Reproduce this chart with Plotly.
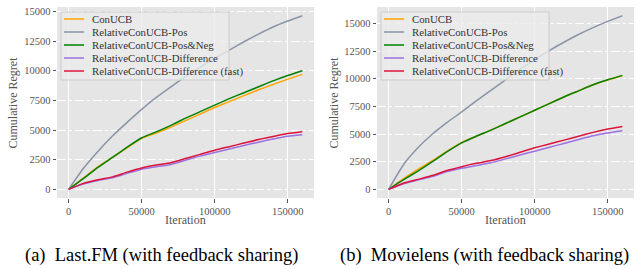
import plotly.graph_objects as go

W, H = 644, 269

iterations = [0, 10000, 20000, 30000, 40000, 50000, 60000, 70000, 80000,
              90000, 100000, 110000, 120000, 130000, 140000, 150000, 160000]

series_names = ["ConUCB", "RelativeConUCB-Pos", "RelativeConUCB-Pos&Neg",
                "RelativeConUCB-Difference", "RelativeConUCB-Difference (fast)"]
series_colors = ["#FFA500", "#8a94a6", "#008000", "#9b72e0", "#DC143C"]

# Last.FM
lastfm_conucb = [0, 950, 1900, 2700, 3500, 4300, 4750, 5250, 5800, 6350, 6900, 7400, 7900, 8400, 8850, 9300, 9700]
lastfm_pos = [0, 1750, 3200, 4500, 5650, 6750, 7750, 8650, 9500, 10300, 11050, 11750, 12450, 13100, 13700, 14200, 14650]
lastfm_posneg = [0, 900, 1850, 2700, 3550, 4350, 4850, 5400, 6000, 6550, 7100, 7650, 8150, 8650, 9150, 9600, 10000]
lastfm_diff = [0, 450, 750, 980, 1350, 1700, 1900, 2100, 2450, 2800, 3100, 3400, 3700, 3980, 4250, 4480, 4600]
lastfm_fast = [0, 500, 800, 1050, 1450, 1800, 2050, 2250, 2600, 2950, 3300, 3600, 3900, 4200, 4450, 4700, 4850]

# Movielens
movie_conucb = [0, 950, 1800, 2600, 3450, 4250, 4800, 5350, 5950, 6550, 7150, 7750, 8350, 8900, 9450, 9880, 10270]
movie_pos = [0, 2200, 3750, 5000, 6050, 7000, 8000, 8950, 9900, 10850, 11730, 12550, 13300, 14000, 14620, 15180, 15700]
movie_posneg = [0, 850, 1650, 2500, 3400, 4200, 4800, 5350, 5950, 6550, 7150, 7750, 8350, 8900, 9450, 9900, 10300]
movie_diff = [0, 500, 850, 1150, 1600, 1900, 2150, 2400, 2750, 3100, 3450, 3800, 4150, 4500, 4850, 5100, 5300]
movie_fast = [0, 550, 900, 1250, 1700, 2050, 2350, 2600, 2950, 3350, 3750, 4100, 4450, 4800, 5150, 5450, 5680]

x_ticks = [0, 50000, 100000, 150000]
y_ticks = [0, 2500, 5000, 7500, 10000, 12500, 15000]
captions = ["(a)  Last.FM (with feedback sharing)", "(b)  Movielens (with feedback sharing)"]

panels = [
    [lastfm_conucb, lastfm_pos, lastfm_posneg, lastfm_diff, lastfm_fast],
    [movie_conucb, movie_pos, movie_posneg, movie_diff, movie_fast],
]

TICKFONT = dict(family="Liberation Serif", size=10.5, color="#555555")
fig = go.Figure()

# pixel layout of plot areas
areas = [(57, 314), (377, 634)]
y_top, y_bot = 7, 198


def px_x(p):
    return p / W


def px_y(p):
    return 1 - p / H


for i, data in enumerate(panels):
    xa = "x" if i == 0 else "x2"
    ya = "y" if i == 0 else "y2"
    for name, color, vals in zip(series_names, series_colors, data):
        fig.add_trace(go.Scatter(x=iterations, y=vals, mode="lines", name=name,
                                 line=dict(color=color, width=1.5, shape="spline", smoothing=0.5),
                                 xaxis=xa, yaxis=ya, showlegend=False, hoverinfo="skip"))
    ymax = max(max(v) for v in data)
    xmax = max(iterations)
    axis_common = dict(showgrid=True, gridcolor="white", gridwidth=1, zeroline=False,
                       ticks="outside", ticklen=3.5, tickcolor="#555555", tickwidth=1,
                       tickfont=TICKFONT, showline=False, automargin=False)
    x0, x1 = areas[i]
    fig.layout["xaxis" + ("" if i == 0 else "2")] = dict(
        domain=[px_x(x0), px_x(x1)], range=[-0.05 * xmax, 1.05 * xmax],
        tickvals=x_ticks, ticktext=[str(v) for v in x_ticks], anchor=ya,
        griddash="solid", **axis_common)
    fig.layout["yaxis" + ("" if i == 0 else "2")] = dict(
        domain=[px_y(y_bot), px_y(y_top)], range=[-0.05 * ymax, 1.05 * ymax],
        tickvals=y_ticks, ticktext=[str(v) for v in y_ticks], anchor=xa,
        griddash="dashdot", **axis_common)

    # axis titles
    fig.add_annotation(x=px_x(12 + (0 if i == 0 else 321)), y=px_y((y_top + y_bot) / 2),
                       xref="paper", yref="paper", xanchor="center", yanchor="middle",
                       text="Cumulative Regret", textangle=-90,
                       showarrow=False, font=dict(family="Liberation Serif", size=12, color="#555555"))
    fig.add_annotation(x=px_x((x0 + x1) / 2), y=px_y(220), xref="paper", yref="paper",
                       xanchor="center", yanchor="middle",
                       text="Iteration", showarrow=False,
                       font=dict(family="Liberation Serif", size=12, color="#555555"))
    # caption
    fig.add_annotation(x=px_x(161 if i == 0 else 485), y=px_y(255), xref="paper", yref="paper",
                       xanchor="center", yanchor="middle",
                       text=captions[i], showarrow=False,
                       font=dict(family="Liberation Serif", size=18.5, color="black"))

    # custom legend box
    lx0 = x0 + 4
    lx1 = lx0 + 168
    fig.add_shape(type="rect", xref="paper", yref="paper",
                  x0=px_x(lx0), x1=px_x(lx1), y0=px_y(80), y1=px_y(12),
                  line=dict(color="#cccccc", width=1), fillcolor="rgba(235,235,235,0.8)", layer="above")
    for k, (name, color) in enumerate(zip(series_names, series_colors)):
        ry = 19 + 13 * k
        fig.add_shape(type="line", xref="paper", yref="paper",
                      x0=px_x(lx0 + 3), x1=px_x(lx0 + 23), y0=px_y(ry), y1=px_y(ry),
                      line=dict(color=color, width=1.5), layer="above")
        fig.add_annotation(x=px_x(lx0 + 29), y=px_y(ry), xref="paper", yref="paper",
                           xanchor="left", yanchor="middle", text=name, showarrow=False,
                           font=dict(family="Liberation Serif", size=10.8, color="#333333"))

fig.update_layout(width=W, height=H, margin=dict(l=0, r=0, t=0, b=0),
                  paper_bgcolor="white", plot_bgcolor="#e5e5e5", showlegend=False)

fig.write_html("out.html", config={"displayModeBar": False},
               post_script="document.body.style.margin='0px';document.body.style.overflow='hidden';")
